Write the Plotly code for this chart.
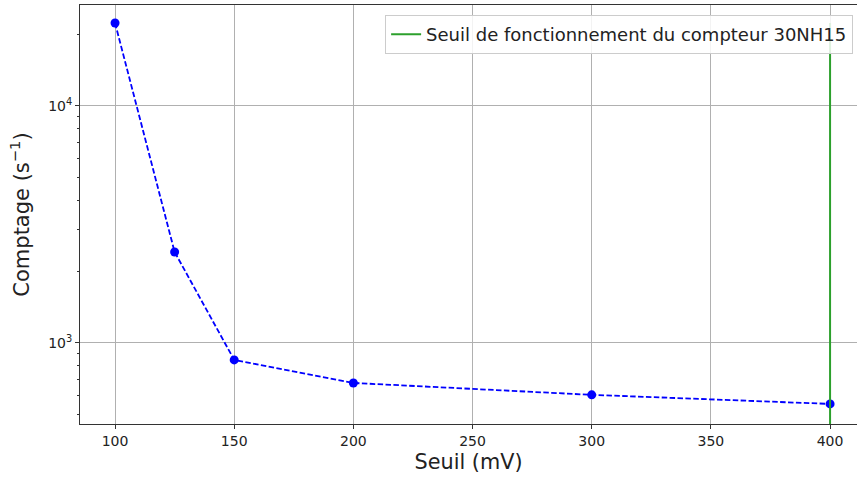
import plotly.graph_objects as go

seuil = [100, 125, 150, 200, 300, 400]
comptage = [22400, 2420, 848, 678, 604, 553]
seuil_compteur = [400, 400]
seuil_compteur_y = [100, 22400]
x_ticks = [100, 150, 200, 250, 300, 350, 400]
y_ticks = [1000, 10000]
y_ticktext = ["10<sup>3</sup>", "10<sup>4</sup>"]
y_minor = [500, 600, 700, 800, 900, 2000, 3000, 4000, 5000, 6000, 7000, 8000, 9000, 20000]

fig = go.Figure()
fig.add_trace(go.Scatter(
    x=seuil, y=comptage, mode="lines+markers",
    line=dict(color="#0000ff", dash="5.5px,2.4px", width=1.8),
    marker=dict(color="#0000ff", size=9),
    showlegend=False,
))
fig.add_trace(go.Scatter(
    x=seuil_compteur, y=seuil_compteur_y, mode="lines",
    line=dict(color="#2ca02c", width=2),
    name="Seuil de fonctionnement du compteur 30NH15",
))

fig.update_layout(
    width=857, height=477,
    margin=dict(l=80, r=0, t=5, b=53, autoexpand=False),
    plot_bgcolor="white", paper_bgcolor="white",
    font=dict(family="DejaVu Sans", color="#222222"),
    legend=dict(
        x=0.995, y=0.976, xanchor="right", yanchor="top",
        bgcolor="rgba(255,255,255,0.85)", bordercolor="#cccccc", borderwidth=1,
        font=dict(size=18, family="DejaVu Sans", color="#222222"),
    ),
)
fig.update_xaxes(
    range=[85.3, 411.3],
    tickvals=x_ticks,
    ticks="outside", ticklen=4, tickcolor="#333333",
    showline=True, linecolor="#333333", linewidth=1, mirror=True,
    showgrid=True, gridcolor="#b0b0b0", gridwidth=1,
    zeroline=False,
    tickfont=dict(size=14),
    title=dict(text="Seuil (mV)", font=dict(size=20.8), standoff=6),
)
fig.update_yaxes(
    type="log",
    range=[2.658, 4.426],
    tickvals=y_ticks, ticktext=y_ticktext,
    ticks="outside", ticklen=4, tickcolor="#333333",
    showline=True, linecolor="#333333", linewidth=1,
    showgrid=True, gridcolor="#b0b0b0", gridwidth=1,
    zeroline=False,
    tickfont=dict(size=14),
    minor=dict(tickvals=y_minor, ticks="outside", ticklen=2, tickcolor="#333333", showgrid=False),
    title=dict(text="Comptage (s<sup>−1</sup>)", font=dict(size=21), standoff=12),
)

fig.write_html("out.html", config={"displayModeBar": False},
               post_script="document.body.style.margin='0';")
